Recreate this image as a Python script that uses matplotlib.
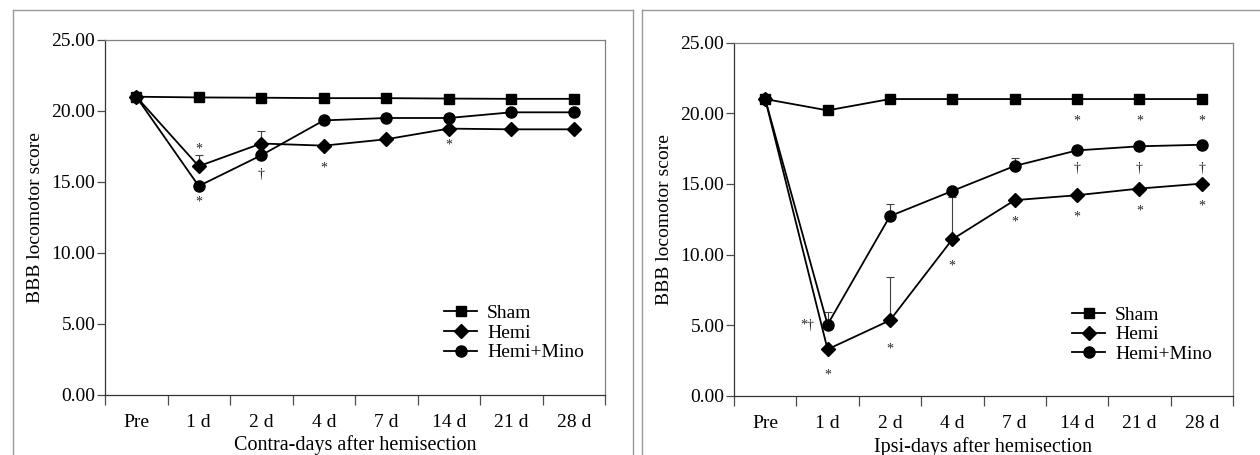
import matplotlib
matplotlib.use("Agg")
import matplotlib.pyplot as plt
from matplotlib.lines import Line2D
import numpy as np

plt.rcParams['font.family'] = ['Liberation Serif', 'DejaVu Serif']

categories = ["Pre", "1 d", "2 d", "4 d", "7 d", "14 d", "21 d", "28 d"]
series_names = ["Sham", "Hemi", "Hemi+Mino"]

# Contra side (left panel)
contra_sham = [21.0, 20.95, 20.93, 20.9, 20.9, 20.87, 20.85, 20.85]
contra_hemi = [21.0, 16.1, 17.7, 17.55, 18.0, 18.75, 18.7, 18.7]
contra_mino = [21.0, 14.7, 16.87, 19.33, 19.5, 19.5, 19.9, 19.9]
contra_hemi_err = [0, 0.8, 0.9, 0, 0, 0, 0, 0]
contra_mino_err = [0, 0, 0, 0, 0, 0, 0, 0]
contra_notes = [(1, 17.3, "*"), (1, 13.6, "*"), (2, 15.5, "†"), (3, 16.0, "*"), (5, 17.6, "*")]

# Ipsi side (right panel)
ipsi_sham = [21.0, 20.2, 21.0, 21.0, 21.0, 21.0, 21.0, 21.0]
ipsi_hemi = [21.0, 3.3, 5.35, 11.08, 13.85, 14.2, 14.67, 15.02]
ipsi_mino = [21.0, 5.05, 12.72, 14.5, 16.27, 17.37, 17.66, 17.77]
ipsi_hemi_err = [0, 0, 3.05, 2.96, 0, 0, 0, 0]
ipsi_mino_err = [0, 0.9, 0.85, 0, 0.56, 0, 0, 0]
ipsi_notes = [(0.68, 5.0, "*†"), (1, 1.5, "*"), (2, 3.3, "*"), (3, 9.2, "*"),
              (4, 12.3, "*"), (5, 12.65, "*"), (6, 13.1, "*"), (7, 13.4, "*"),
              (5, 19.45, "*"), (6, 19.45, "*"), (7, 19.45, "*"),
              (5, 16.1, "†"), (6, 16.1, "†"), (7, 16.1, "†")]

xlabels = ["Contra-days after hemisection", "Ipsi-days after hemisection"]
ylabel = "BBB locomotor score"
yticks = [0, 5, 10, 15, 20, 25]

fig = plt.figure(figsize=(12.6, 4.55), dpi=100)

W, H = 1260.0, 455.0
def fx(px):
    return px / W
def fy(py):
    return 1 - py / H

# outer panel frames (light gray)
frame_kw = dict(color="0.6", lw=1.0, transform=fig.transFigure)
fig.add_artist(Line2D([fx(13), fx(633)], [fy(10), fy(10)], **frame_kw))
fig.add_artist(Line2D([fx(13), fx(13)], [fy(10), fy(455)], **frame_kw))
fig.add_artist(Line2D([fx(633), fx(633)], [fy(10), fy(455)], **frame_kw))
fig.add_artist(Line2D([fx(642), fx(1260)], [fy(10), fy(10)], **frame_kw))
fig.add_artist(Line2D([fx(642), fx(642)], [fy(10), fy(455)], **frame_kw))

axes_px = [(105, 40, 605, 394.5), (734, 42.5, 1233, 396)]

panels = [
    (contra_sham, contra_hemi, contra_mino, contra_hemi_err, contra_mino_err, contra_notes),
    (ipsi_sham, ipsi_hemi, ipsi_mino, ipsi_hemi_err, ipsi_mino_err, ipsi_notes),
]

x = np.arange(len(categories))
for i, (sham, hemi, mino, herr, merr, notes) in enumerate(panels):
    l, t, r, b = axes_px[i]
    ax = fig.add_axes([fx(l), fy(b), (r - l) / W, (b - t) / H])

    ax.errorbar(x, hemi, yerr=[np.zeros(len(x)), herr], fmt="none", ecolor="0.25",
                elinewidth=0.8, capsize=3, capthick=0.8, zorder=1)
    ax.errorbar(x, mino, yerr=[np.zeros(len(x)), merr], fmt="none", ecolor="0.25",
                elinewidth=0.8, capsize=3, capthick=0.8, zorder=1)

    ax.plot(x, sham, color="black", lw=1.3, marker="s", markersize=7, label=series_names[0], zorder=3)
    ax.plot(x, hemi, color="black", lw=1.3, marker="D", markersize=7.5, label=series_names[1], zorder=3)
    ax.plot(x, mino, color="black", lw=1.3, marker="o", markersize=8, label=series_names[2], zorder=3)

    for (nx, ny, txt) in notes:
        ax.text(nx, ny, txt, ha="center", va="center", fontsize=10, color="0.15")

    ax.set_xlim(-0.5, 7.5)
    ax.set_ylim(0, 25)
    ax.set_xticks(x)
    ax.set_xticklabels(categories)
    ax.set_xticks(np.arange(-0.5, 8.0, 1.0), minor=True)
    ax.tick_params(axis="x", which="major", length=0, pad=14, labelsize=14)
    ax.tick_params(axis="x", which="minor", length=7, width=0.9, direction="out", color="0.3")
    ax.set_yticks(yticks)
    ax.set_yticklabels([f"{v:.2f}" for v in yticks])
    ax.tick_params(axis="y", length=6, width=0.9, direction="out", pad=1, labelsize=14, color="0.3")

    for s in ["left", "bottom"]:
        ax.spines[s].set_color("0.2")
        ax.spines[s].set_linewidth(0.9)
    for s in ["top", "right"]:
        ax.spines[s].set_color("0.5")
        ax.spines[s].set_linewidth(0.9)

    ax.set_xlabel(xlabels[i], fontsize=14.5, labelpad=3)
    ax.set_ylabel(ylabel, fontsize=14, labelpad=5)

    ax.legend(loc="lower right", bbox_to_anchor=(0.985, 0.055), frameon=False, fontsize=14,
              handlelength=1.7, handletextpad=0.5, labelspacing=0.1, borderpad=0.2)

fig.savefig("out.png", dpi=100)
